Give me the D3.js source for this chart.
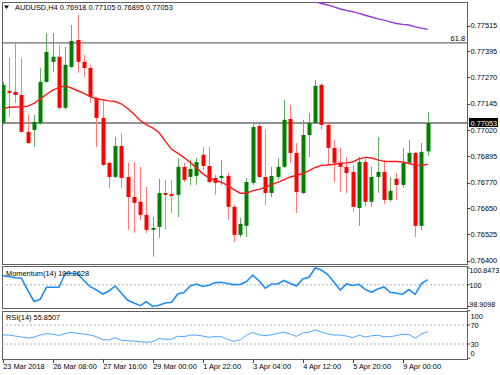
<!DOCTYPE html>
<html>
<head>
<meta charset="utf-8">
<script src="https://cdn.jsdelivr.net/npm/d3@7"></script>
<style>
  body { margin: 0; background: #fff; }
  svg text { font-family: "Liberation Sans", Arial, sans-serif; font-size: 7.4px; fill: #000; }
</style>
</head>
<body>
<div id="chart"></div>
<script>
// AUDUSD H4 candles
var open  = [0.77053,0.77205,0.77200,0.77186,0.77011,0.77020,0.77053,0.77248,0.77343,0.77367,0.77125,0.77319,0.77447,0.77343,0.77314,0.77172,0.77077,0.76864,0.76797,0.76944,0.76797,0.76702,0.76679,0.76617,0.76546,0.76560,0.76721,0.76716,0.76712,0.76845,0.76797,0.76802,0.76902,0.76849,0.76792,0.76792,0.76802,0.76655,0.76522,0.76565,0.76769,0.77039,0.76797,0.76721,0.76797,0.76845,0.77072,0.76911,0.76721,0.76996,0.77053,0.77234,0.77044,0.76935,0.76864,0.76845,0.76821,0.76650,0.76868,0.76679,0.76797,0.76821,0.76688,0.76788,0.76759,0.76864,0.76911,0.76565,0.76918];
var high  = [0.77248,0.77362,0.77433,0.77362,0.77091,0.77091,0.77314,0.77480,0.77480,0.77423,0.77414,0.77518,0.77566,0.77376,0.77329,0.77177,0.77163,0.76868,0.76987,0.77006,0.76864,0.76868,0.76845,0.76750,0.76607,0.76788,0.76783,0.76783,0.76887,0.76864,0.76878,0.76887,0.76939,0.76939,0.76807,0.76878,0.76816,0.76664,0.76603,0.76792,0.77058,0.77049,0.77020,0.76845,0.76887,0.77163,0.77139,0.76958,0.77068,0.77101,0.77257,0.77243,0.77053,0.76973,0.76935,0.76892,0.76854,0.76892,0.76883,0.76845,0.76987,0.76878,0.76797,0.76816,0.76935,0.76973,0.76916,0.76958,0.77105];
var low   = [0.77044,0.77082,0.77148,0.77006,0.76954,0.76939,0.77044,0.77243,0.77295,0.77115,0.77115,0.77314,0.77291,0.77272,0.77148,0.76939,0.76849,0.76745,0.76792,0.76745,0.76546,0.76531,0.76593,0.76531,0.76418,0.76508,0.76546,0.76626,0.76607,0.76773,0.76759,0.76759,0.76830,0.76769,0.76712,0.76759,0.76593,0.76489,0.76512,0.76512,0.76759,0.76792,0.76664,0.76702,0.76783,0.76840,0.76864,0.76626,0.76716,0.76892,0.77049,0.77020,0.76854,0.76773,0.76726,0.76721,0.76631,0.76565,0.76655,0.76655,0.76721,0.76669,0.76679,0.76688,0.76745,0.76859,0.76512,0.76546,0.76895];
var close = [0.77234,0.77196,0.77186,0.77011,0.76958,0.77058,0.77248,0.77390,0.77367,0.77125,0.77329,0.77442,0.77343,0.77314,0.77177,0.77077,0.76854,0.76797,0.76944,0.76792,0.76702,0.76674,0.76617,0.76546,0.76555,0.76721,0.76712,0.76707,0.76845,0.76783,0.76835,0.76868,0.76849,0.76773,0.76769,0.76802,0.76655,0.76522,0.76574,0.76773,0.77034,0.76797,0.76721,0.76802,0.76845,0.77068,0.76911,0.76726,0.76996,0.77053,0.77229,0.77044,0.76935,0.76864,0.76845,0.76816,0.76655,0.76868,0.76679,0.76797,0.76821,0.76688,0.76731,0.76759,0.76864,0.76911,0.76565,0.76916,0.77053];

// moving averages as drawn on the chart
var fastMa = [0.77119,0.77128,0.77129,0.77130,0.77133,0.77146,0.77167,0.77189,0.77209,0.77221,0.77229,0.77219,0.77206,0.77193,0.77178,0.77168,0.77163,0.77158,0.77155,0.77143,0.77122,0.77096,0.77065,0.77044,0.77030,0.77008,0.76968,0.76928,0.76910,0.76889,0.76866,0.76840,0.76813,0.76793,0.76780,0.76772,0.76756,0.76737,0.76720,0.76720,0.76732,0.76738,0.76748,0.76761,0.76771,0.76784,0.76797,0.76804,0.76812,0.76827,0.76842,0.76852,0.76854,0.76857,0.76862,0.76864,0.76868,0.76883,0.76890,0.76887,0.76878,0.76871,0.76870,0.76870,0.76868,0.76861,0.76853,0.76852,0.76857];
var slowMaFrom = 48;
var slowMa = [0.77646,0.77637,0.77628,0.77620,0.77613,0.77604,0.77594,0.77587,0.77581,0.77573,0.77564,0.77556,0.77547,0.77541,0.77533,0.77525,0.77521,0.77518,0.77509,0.77503,0.77497];

// indicators
var momentum = [100.460,100.420,100.359,100.329,99.740,99.162,99.272,99.876,99.876,99.876,100.581,100.581,100.545,100.218,99.906,99.740,99.539,99.690,99.942,99.574,99.222,99.086,98.950,99.152,98.910,98.975,99.086,99.121,99.539,99.614,99.942,100.042,99.916,99.977,100.113,100.128,100.067,100.012,100.017,100.168,100.495,100.203,99.826,100.042,100.042,100.218,100.072,99.942,100.294,100.379,100.847,100.747,100.520,100.143,99.740,100.042,99.967,100.027,99.771,99.625,99.791,99.891,99.625,99.574,99.529,99.765,99.524,100.067,100.263];
var rsi = [48.9,48.9,46.8,44.7,42.6,44.3,48.9,51.9,50.6,47.9,51.9,54.6,52.1,51.1,48.9,45.4,39.1,38.4,43.3,37.8,36.7,36.3,34.8,33.6,34.6,41.6,39.9,39.9,46.4,45.6,48.5,48.9,46.8,44.3,45.4,45.4,39.9,35.7,38.4,48.5,54.4,49.4,47.7,49.4,52.1,54.8,51.1,45.8,53.2,54.8,59.5,55.3,51.1,48.9,48.9,46.8,43.3,48.5,44.7,47.3,48.5,45.4,45.4,47.7,50.6,50.0,42.2,51.1,55.85];
var momHeader = "Momentum(14) 100.2628";
var rsiHeader = "RSI(14) 55.8507";

// axis labels
var priceTicks = [0.77515,0.77395,0.77270,0.77145,0.77020,0.76895,0.76770,0.76650,0.76525,0.76400];
var momTicks = [100.8473, 100, 98.9098];
var rsiTicks = [100, 70, 30, 0];
var dateIdx = [0, 8, 16, 24, 32, 40, 48, 56, 64];
var dateLabels = ["23 Mar 2018","26 Mar 08:00","27 Mar 16:00","29 Mar 00:00","1 Apr 22:00","3 Apr 04:00","4 Apr 12:00","5 Apr 20:00","9 Apr 00:00"];
var fibLevel = 0.77433, fibLabel = "61.8";
var bid = 0.77053;

// Setup
var W = 500, H = 375;
var left = 2, right = 467;
var main = {top: 2, bottom: 264};
var mom = {top: 266, bottom: 308};
var rsiP = {top: 311, bottom: 359};
var n = close.length;

var svg = d3.select('#chart').append('svg')
  .attr('width', W).attr('height', H);

var x = d3.scaleLinear().domain([0, n - 1]).range([2.7, 427.7]);
var y = d3.scaleLinear().domain([0.76384, 0.77627]).range([main.bottom, main.top]);
var yMom = d3.scaleLinear().domain([98.9098, 100.8473]).range([306.5, 268]);
var yRsi = d3.scaleLinear().domain([0, 100]).range([358.25, 310.75]);

svg.append('defs').append('clipPath').attr('id', 'clip-main').append('rect')
  .attr('x', left).attr('y', main.top).attr('width', right - left).attr('height', main.bottom - main.top);

// panel frames
[main, mom, rsiP].forEach(function(p){
  svg.append('rect')
    .attr('x', left + 0.5).attr('y', p.top + 0.5)
    .attr('width', right - left).attr('height', p.bottom - p.top)
    .attr('fill', 'none').attr('stroke', '#606060').attr('stroke-width', 1);
});

var g = svg.append('g').attr('clip-path', 'url(#clip-main)');

// horizontal levels
[fibLevel, bid].forEach(function(v){
  g.append('line').attr('x1', left).attr('x2', right)
    .attr('y1', y(v)).attr('y2', y(v))
    .attr('stroke', '#6b6b6b').attr('stroke-width', 1.3);
});
svg.append('text').attr('x', 465).attr('y', y(fibLevel) - 2)
  .attr('text-anchor', 'end').text(fibLabel);

// candles
var bars = d3.range(n);
g.selectAll('.wick').data(bars).enter().append('line')
  .attr('class', 'wick')
  .attr('x1', function(i){ return Math.round(x(i)) + 0.5; })
  .attr('x2', function(i){ return Math.round(x(i)) + 0.5; })
  .attr('y1', function(i){ return y(high[i]); })
  .attr('y2', function(i){ return y(low[i]); })
  .attr('stroke', function(i){ return close[i] >= open[i] ? '#62b062' : '#ff7a7a'; })
  .attr('stroke-width', 1);

g.selectAll('.body').data(bars).enter().append('rect')
  .attr('class', 'body')
  .attr('x', function(i){ return Math.round(x(i)) - 1.5; })
  .attr('width', 4)
  .attr('y', function(i){ return y(Math.max(open[i], close[i])); })
  .attr('height', function(i){ return Math.max(1.2, Math.abs(y(open[i]) - y(close[i]))); })
  .attr('fill', function(i){ return close[i] >= open[i] ? '#008000' : '#ff0000'; });

// moving averages
g.append('path').datum(fastMa)
  .attr('d', d3.line().x(function(d, i){ return x(i); }).y(function(d){ return y(d); }))
  .attr('fill', 'none').attr('stroke', '#ff1a1a').attr('stroke-width', 1.4);
g.append('path').datum(slowMa)
  .attr('d', d3.line().x(function(d, i){ return x(i + slowMaFrom); }).y(function(d){ return y(d); }))
  .attr('fill', 'none').attr('stroke', '#9a35d8').attr('stroke-width', 1.4);

// price axis
svg.selectAll('.ptick').data(priceTicks).enter().append('line')
  .attr('x1', right).attr('x2', right + 3)
  .attr('y1', function(d){ return Math.round(y(d)) + 0.5; })
  .attr('y2', function(d){ return Math.round(y(d)) + 0.5; })
  .attr('stroke', '#404040');
svg.selectAll('.plabel').data(priceTicks).enter().append('text')
  .attr('x', right + 3.5).attr('y', function(d){ return y(d) + 2.7; })
  .text(function(d){ return d.toFixed(5); });

// bid box
svg.append('rect').attr('x', right + 2).attr('y', y(bid) - 5)
  .attr('width', 29).attr('height', 9).attr('fill', '#000');
svg.append('text').attr('x', right + 3.5).attr('y', y(bid) + 2.6)
  .style('fill', '#fff').text(bid.toFixed(5));

// title
svg.append('path').attr('d', 'M4,5.5 L9,5.5 L6.5,9 Z').attr('fill', '#000');
svg.append('text').attr('x', 15).attr('y', 10)
  .text('AUDUSD,H4  ' + [open[n-1], high[n-1], low[n-1], close[n-1]].map(function(v){ return v.toFixed(5); }).join(' '));

// momentum panel
svg.append('line').attr('x1', left).attr('x2', right)
  .attr('y1', yMom(100)).attr('y2', yMom(100))
  .attr('stroke', '#b0b0b0').attr('stroke-dasharray', '2,2');
svg.append('path').datum(momentum)
  .attr('d', d3.line().x(function(d, i){ return x(i); }).y(function(d){ return yMom(d); }))
  .attr('fill', 'none').attr('stroke', '#1e8cf5').attr('stroke-width', 1.6);
svg.append('text').attr('x', 6).attr('y', 275.5).text(momHeader);
var momPos = [270, 285, 304];
momTicks.forEach(function(d, k){
  svg.append('line').attr('x1', right).attr('x2', right + 3)
    .attr('y1', yMom(d)).attr('y2', yMom(d)).attr('stroke', '#404040');
  svg.append('text').attr('x', right + 2.5).attr('y', momPos[k] + 2.7)
    .style('font-size', '7.1px').text(d);
});

// rsi panel
[70, 30].forEach(function(v){
  svg.append('line').attr('x1', left).attr('x2', right)
    .attr('y1', yRsi(v)).attr('y2', yRsi(v))
    .attr('stroke', '#b0b0b0').attr('stroke-dasharray', '2,2');
});
svg.append('path').datum(rsi)
  .attr('d', d3.line().x(function(d, i){ return x(i); }).y(function(d){ return yRsi(d); }))
  .attr('fill', 'none').attr('stroke', '#4aa6ff').attr('stroke-width', 1);
svg.append('text').attr('x', 6).attr('y', 320).text(rsiHeader);
var rsiPos = [316, 325, 344, 353.5];
rsiTicks.forEach(function(d, k){
  svg.append('line').attr('x1', right).attr('x2', right + 3)
    .attr('y1', yRsi(d)).attr('y2', yRsi(d)).attr('stroke', '#404040');
  svg.append('text').attr('x', right + 3.5).attr('y', rsiPos[k] + 2.7).text(d);
});

// time axis
svg.selectAll('.dtick').data(dateIdx).enter().append('line')
  .attr('x1', function(i){ return Math.round(x(i)) + 0.5; })
  .attr('x2', function(i){ return Math.round(x(i)) + 0.5; })
  .attr('y1', rsiP.bottom).attr('y2', rsiP.bottom + 4)
  .attr('stroke', '#404040');
svg.selectAll('.dlabel').data(dateIdx).enter().append('text')
  .attr('x', function(i){ return x(i) + 0.5; }).attr('y', 369)
  .text(function(i, k){ return dateLabels[k]; });
</script>
</body>
</html>
